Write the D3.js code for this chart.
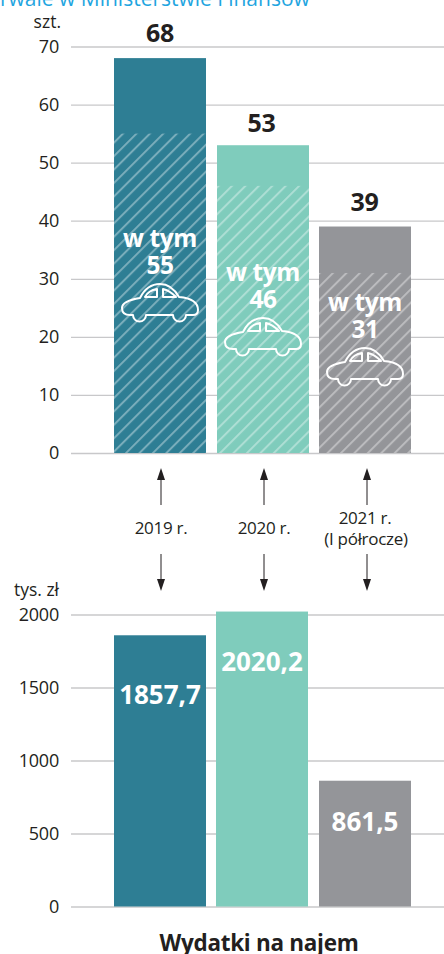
<!DOCTYPE html>
<html><head><meta charset="utf-8">
<script src="https://cdn.jsdelivr.net/npm/d3@7"></script>
<style>html,body{margin:0;padding:0;background:#fff}svg{display:block}text{font-family:"Open Sans",sans-serif}</style>
</head><body><svg id="c" width="444" height="954"></svg>
<script>
const years = ["2019 r.", "2020 r.", "2021 r."];
const yearSub = [null, null, "(I półrocze)"];
const cars = [68, 53, 39];
const carsOfWhich = [55, 46, 31];
const spend = [1857.7, 2020.2, 861.5];
const spendLabels = ["1857,7", "2020,2", "861,5"];
const colors = ["#2e7e94", "#7fccbc", "#949599"];
const topTicks = [0,10,20,30,40,50,60,70];
const bottomTicks = [0,500,1000,1500,2000];
const titleText = "rwale w Ministerstwie Finansów";
const topUnit = "szt.", bottomUnit = "tys. zł", footer = "Wydatki na najem";
const labelTop = "w tym";

const svg = d3.select("#c");
const ink = "#231f20";
const yT = d3.scaleLinear().domain([0,70]).range([453,46.5]);
const yB = d3.scaleLinear().domain([0,2000]).range([906.5,614.5]);
const barW = 92;
const xT = d3.scaleOrdinal().domain([0,1,2]).range([114,217,319]);
const xB = d3.scaleOrdinal().domain([0,1,2]).range([114,216,319]);

const defs = svg.append("defs");
const pat = defs.append("pattern").attr("id","hatch").attr("patternUnits","userSpaceOnUse")
  .attr("width",9.5).attr("height",9.5).attr("patternTransform","rotate(45)");
pat.append("rect").attr("x",0).attr("y",0).attr("width",2).attr("height",9.5).attr("fill","#fff").attr("fill-opacity",0.36);

svg.append("text").attr("x",0).attr("y",6).attr("font-size",21).attr("fill","#1fa5e0").text(titleText);

function axis(scale,ticks){
  const g = svg.append("g").attr("transform","translate(71,0)")
    .call(d3.axisLeft(scale).tickValues(ticks).tickSize(0).tickPadding(12).tickFormat(d3.format("d")));
  g.select(".domain").remove();
  g.selectAll("text").attr("font-size",18).attr("fill",ink).attr("letter-spacing",-0.2).style("font-family",'"Open Sans",sans-serif');
  g.selectAll("line").attr("x2",373).attr("stroke","#c8c8ca").attr("stroke-width",1.3);
}
axis(yT,topTicks); axis(yB,bottomTicks);

svg.append("g").selectAll("rect").data(cars).join("rect")
  .attr("x",(d,i)=>xT(i)).attr("width",barW).attr("y",d=>yT(d)).attr("height",d=>yT(0)-yT(d)).attr("fill",(d,i)=>colors[i]);
svg.append("g").selectAll("rect").data(carsOfWhich).join("rect")
  .attr("x",(d,i)=>xT(i)).attr("width",barW).attr("y",d=>yT(d)).attr("height",d=>yT(0)-yT(d)).attr("fill","url(#hatch)");

svg.append("g").selectAll("text").data(cars).join("text")
  .attr("x",(d,i)=>xT(i)+barW/2-[0,1.5,0.5][i]).attr("y",(d,i)=>yT(d)-[16,13,16][i]).attr("text-anchor","middle")
  .attr("font-size",25).attr("font-weight",700).attr("fill",ink).attr("letter-spacing",-0.3).text(d=>d);

const carOutline = "M8,32C2,32 0,29 0,25C0,20 6,17 18,15C22,7 28,1 38,1C47,1 53,7 57,14C68,15 76,19 76,27C76,30 74,32 71,32L64,32A6.5,6.5 0 0 1 51,32L24,32A6.5,6.5 0 0 1 11,32Z M23,14C25,10 29,7 35,6L35,14Z M41,6C46,7 50,10 54,14L41,14Z";
const grp = svg.append("g").selectAll("g").data(carsOfWhich).join("g")
  .attr("transform",(d,i)=>`translate(${xT(i)+barW/2},${yT(0)})`);
const offs = [-206,-172,-142];
grp.append("text").attr("text-anchor","middle").attr("y",(d,i)=>offs[i]).attr("font-size",24.5).attr("font-weight",700).attr("fill","#fff").attr("letter-spacing",-0.4).text(labelTop);
grp.append("text").attr("text-anchor","middle").attr("y",(d,i)=>offs[i]+27).attr("font-size",24.5).attr("font-weight",700).attr("fill","#fff").attr("letter-spacing",-0.4).text(d=>d);
grp.append("path").attr("d",carOutline).attr("transform",(d,i)=>`translate(-38,${offs[i]+36})`)
  .attr("fill","none").attr("stroke","#fff").attr("stroke-width",2).attr("stroke-linejoin","round");

svg.append("g").selectAll("rect").data(spend).join("rect")
  .attr("x",(d,i)=>xB(i)).attr("width",barW).attr("y",d=>yB(d)).attr("height",d=>yB(0)-yB(d)).attr("fill",(d,i)=>colors[i]);
svg.append("g").selectAll("text").data(spendLabels).join("text")
  .attr("x",(d,i)=>xB(i)+barW/2).attr("y",(d,i)=>[704,671,831][i]).attr("text-anchor","middle")
  .attr("font-size",26).attr("font-weight",700).attr("fill","#fff").text(d=>d);

const arrowX = [161,264,367];
const arrows = svg.append("g").selectAll("g").data(years).join("g");
arrows.append("line").attr("x1",(d,i)=>arrowX[i]).attr("x2",(d,i)=>arrowX[i]).attr("y1",478).attr("y2",505).attr("stroke",ink).attr("stroke-width",1);
arrows.append("line").attr("x1",(d,i)=>arrowX[i]).attr("x2",(d,i)=>arrowX[i]).attr("y1",554).attr("y2",580).attr("stroke",ink).attr("stroke-width",1);
arrows.append("path").attr("d",(d,i)=>`M${arrowX[i]},468l4,12h-8Z`).attr("fill",ink);
arrows.append("path").attr("d",(d,i)=>`M${arrowX[i]},591l4,-12h-8Z`).attr("fill",ink);
arrows.append("text").attr("x",(d,i)=>arrowX[i]-(i==2?2:0)).attr("y",(d,i)=>i==2?524:534).attr("text-anchor","middle").attr("font-size",17).attr("fill",ink).attr("letter-spacing",-0.3).text(d=>d);
arrows.append("text").attr("x",(d,i)=>arrowX[i]-(i==2?1:0)).attr("y",545).attr("text-anchor","middle").attr("font-size",17).attr("fill",ink).attr("letter-spacing",-0.3).text((d,i)=>yearSub[i]);

svg.append("text").attr("x",61).attr("y",28).attr("text-anchor","end").attr("font-size",17.5).attr("fill",ink).text(topUnit);
svg.append("text").attr("x",59).attr("y",596).attr("text-anchor","end").attr("font-size",17.5).attr("fill",ink).text(bottomUnit);
svg.append("text").attr("x",259).attr("y",951).attr("text-anchor","middle").attr("font-size",22.5).attr("font-weight",700).attr("fill",ink).attr("letter-spacing",-0.3).text(footer);
</script></body></html>
